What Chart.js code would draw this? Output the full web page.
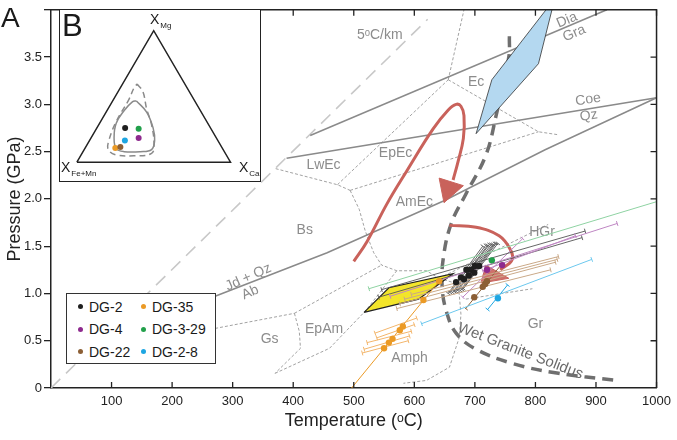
<!DOCTYPE html>
<html>
<head>
<meta charset="utf-8">
<script src="https://cdn.jsdelivr.net/npm/chart.js@4.4.1/dist/chart.umd.min.js"></script>
<style>
  body { margin: 0; background: #fff; font-family: "Liberation Sans", Arial, Helvetica, sans-serif; }
  #wrap { position: relative; width: 677px; height: 440px; overflow: hidden; }
  #main { position: absolute; left: 0; top: 0; }
  .abs { position: absolute; line-height: 1; color: #1a1a1a; white-space: nowrap; }
  #inset { position: absolute; left: 59px; top: 9px; width: 200px; height: 171px; border: 1.5px solid #222; background: #fff; }
  #inset canvas { position: absolute; left: 0; top: 0; }
  #legend { position: absolute; left: 66px; top: 293px; width: 148px; height: 69px; border: 1.5px solid #333; background: #fff; }
  .li { position: absolute; font-size: 14px; line-height: 14px; color: #1a1a1a; }
  .dot { position: absolute; width: 5px; height: 5px; border-radius: 50%; }
  .sub { font-size: 8px; position: relative; top: 4px; margin-left: 1px; }
</style>
</head>
<body>
<div id="wrap">
  <canvas id="main" width="677" height="440"></canvas>
  <div class="abs" style="left:1px; top:4px; font-size:28px;">A</div>
  <div id="inset"><canvas id="tern" width="200" height="171"></canvas></div>
  <div class="abs" style="left:62px; top:10px; font-size:31px;">B</div>
  <div class="abs" style="left:150px; top:12px; font-size:14px;">X<span class="sub">Mg</span></div>
  <div class="abs" style="left:61px; top:160px; font-size:14px;">X<span class="sub">Fe+Mn</span></div>
  <div class="abs" style="left:239px; top:160px; font-size:14px;">X<span class="sub">Ca</span></div>
  <div id="legend"></div>
</div>
<script>
const family = '"Liberation Sans", Arial, Helvetica, sans-serif';
Chart.defaults.font.family = family;

// axis ticks
const tempTicks = [100, 200, 300, 400, 500, 600, 700, 800, 900, 1000];
const pressTicks = [0.5, 1.0, 1.5, 2.0, 2.5, 3.0, 3.5];

// background geotherm, reactions, facies boundaries  [T (C), P (GPa)]
const geotherm5 = [[0, 0], [622, 3.9]];
const reactionJdAb = [[271, 0.97], [456, 1.43], [649, 1.98], [816, 2.52], [1000, 3.07]];
const reactionCoeQz = [[389, 2.43], [1000, 3.07]];
const reactionDiaGra = [[428, 2.67], [918, 4.0]];
const faciesLines = [
  [[371, 2.32], [473, 2.15], [494, 2.09]],
  [[473, 2.15], [656, 3.26]],
  [[656, 3.26], [682, 4.0]],
  [[656, 3.26], [805, 2.71], [836, 2.68]],
  [[494, 2.09], [805, 2.71]],
  [[494, 2.09], [509, 1.89], [519, 1.66], [533, 1.43], [546, 1.30], [571, 1.24], [620, 1.24], [641, 1.16]],
  [[271, 0.63], [402, 0.79]],
  [[402, 0.79], [546, 1.30]],
  [[402, 0.79], [410, 0.60], [412, 0.42], [370, 0.155]],
  [[370, 0.155], [460, 0.42], [520, 0.82], [566, 1.20], [571, 1.24]],
  [[641, 1.16], [662, 1.12], [674, 1.0], [677, 0.78], [674, 0.53], [658, 0.22], [620, 0.08], [582, 0.05]],
  [[641, 1.16], [821, 1.73]],
  [[685, 0.94], [795, 1.05]]
];
const solidus = [[757, 3.72], [756, 3.50], [735, 2.88], [718, 2.46], [685, 2.05], [661, 1.74], [648, 1.38],
  [646, 1.07], [653, 0.81], [669, 0.58], [702, 0.41], [762, 0.26], [838, 0.155], [931, 0.083]];
const bluePoly = [[702, 2.69], [728, 3.26], [832, 4.12], [805, 3.43], [702, 2.69]];
const yellowPoly = [[517, 0.80], [558, 1.06], [664, 1.21], [607, 0.94], [517, 0.80]];
const redPath1 = [[500, 1.34], [522, 1.55], [555, 1.95], [587, 2.29], [631, 2.74], [656, 2.94], [669, 3.0],
  [677, 2.98], [682, 2.88], [681, 2.64], [672, 2.39], [664, 2.2]];
const arrowHead1 = [[649, 1.96], [641, 2.22], [681, 2.14], [649, 1.96]];
const redPath2 = [[658, 1.72], [702, 1.70], [740, 1.61], [759, 1.46], [761, 1.35], [742, 1.25]];
const arrowHead2 = [[710, 1.11], [718, 1.30], [756, 1.16], [710, 1.11]];

// samples
const dg2T = [669, 677, 682, 686, 690, 694, 699, 700, 707];
const dg2P = [1.12, 1.17, 1.15, 1.25, 1.19, 1.25, 1.22, 1.29, 1.29];
const dg2Steep = [
  [[656, 1.00], [713, 1.50]], [[659, 1.01], [718, 1.51]], [[663, 1.01], [721, 1.51]],
  [[666, 1.02], [724, 1.52]], [[669, 1.02], [727, 1.52]], [[672, 1.03], [730, 1.52]],
  [[676, 1.03], [733, 1.53]], [[679, 1.04], [735, 1.53]], [[681, 1.05], [738, 1.53]]
];
const dg2Shallow = [[[546, 1.04], [882, 1.66]], [[541, 0.96], [877, 1.59]]];

const dg4T = [720, 745];
const dg4P = [1.25, 1.30];
const dg4Steep = [[[680, 0.96], [779, 1.58]]];
const dg4Shallow = [[[560, 0.97], [935, 1.74]], [[713, 1.24], [866, 1.61]]];

const dg22T = [699, 713, 717, 720];
const dg22P = [0.96, 1.07, 1.10, 1.13];
const dg22Steep = [[[685, 0.84], [743, 1.30]]];
const dg22Shallow = [[[595, 0.99], [838, 1.39]], [[584, 0.94], [836, 1.36]], [[576, 0.89], [833, 1.33]], [[571, 0.84], [825, 1.25]]];

const dg35T = [641, 615, 581, 576, 564, 558, 550];
const dg35P = [1.13, 0.93, 0.65, 0.61, 0.52, 0.48, 0.42];
const dg35Steep = [[[490, -0.05], [645, 1.16]]];
const dg35Shallow = [[[535, 0.58], [604, 0.74]], [[538, 0.53], [600, 0.67]], [[522, 0.48], [595, 0.60]], [[517, 0.41], [592, 0.55]], [[514, 0.37], [590, 0.50]]];

const dg329T = [728];
const dg329P = [1.35];
const dg329Shallow = [[[525, 1.05], [1010, 1.99]]];

const dg28T = [738];
const dg28P = [0.95];
const dg28Steep = [[[721, 0.83], [754, 1.09]]];
const dg28Shallow = [[[612, 0.68], [893, 1.36]]];

// ternary inset (triangle coordinates, base = 1)
const ternTriangle = [[0, 0], [1, 0], [0.5, 0.8625], [0, 0]];
const ternSolid = [[0.3875, 0.402], [0.454, 0.329], [0.496, 0.225], [0.506, 0.142], [0.486, 0.083], [0.4125, 0.069],
  [0.308, 0.069], [0.256, 0.089], [0.242, 0.1625], [0.256, 0.256], [0.308, 0.339], [0.361, 0.396], [0.3875, 0.402]];
const ternDashed = [[0.392, 0.5125], [0.429, 0.464], [0.454, 0.35], [0.486, 0.246], [0.502, 0.121], [0.486, 0.058],
  [0.371, 0.042], [0.256, 0.048], [0.204, 0.083], [0.208, 0.142], [0.256, 0.267], [0.339, 0.4125], [0.371, 0.486], [0.392, 0.5125]];
const ternX = [0.314, 0.25, 0.402, 0.402, 0.283, 0.3125];
const ternY = [0.225, 0.094, 0.158, 0.219, 0.10, 0.142];

const sampleNames = ['DG-2', 'DG-35', 'DG-4', 'DG-3-29', 'DG-22', 'DG-2-8'];
const sampleColors = ['#1f1f1f', '#eb9a25', '#8e2a8e', '#22a04b', '#8c5f35', '#1ea6e2'];
const barColors = ['#555555', '#f3b66c', '#bf86c3', '#8fd3a3', '#caa988', '#6cc8ee'];

const regionLabels = [
  ['5\u1D52C/km', 543, 3.73, 0], ['Dia', 852, 3.89, -23], ['Gra', 864, 3.75, -23], ['Ec', 702, 3.24, 0],
  ['Coe', 887, 3.05, -9], ['Qz', 888, 2.88, -9], ['LwEc', 450, 2.36, 0], ['EpEc', 569, 2.48, 0],
  ['AmEc', 600, 1.97, 0], ['Bs', 419, 1.67, 0], ['Jd + Qz', 326, 1.17, -24], ['Ab', 329, 1.01, -24],
  ['Gs', 361, 0.52, 0], ['EpAm', 451, 0.62, 0], ['Amph', 592, 0.32, 0], ['HGr', 811, 1.65, 0], ['Gr', 800, 0.68, 0]
];

const xy = a => a.map(([x, y]) => ({ x, y }));
function lineSet(pts, color, width, dash, order, extra) {
  return Object.assign({ data: xy(pts), showLine: true, borderColor: color, borderWidth: width,
    borderDash: dash, pointRadius: 0, fill: false, tension: 0, order: order }, extra || {});
}
function capAngle(chart, s) {
  const sx = chart.scales.x, sy = chart.scales.y;
  const dx = sx.getPixelForValue(s[1][0]) - sx.getPixelForValue(s[0][0]);
  const dy = sy.getPixelForValue(s[1][1]) - sy.getPixelForValue(s[0][1]);
  return Math.atan2(dy, dx) * 180 / Math.PI + 90;
}
function barSets(segs, color, width) {
  return segs.map(s => lineSet(s, color, width, [], 10, {
    pointStyle: 'line', pointRadius: 2.5, pointBorderColor: color, pointBorderWidth: width,
    pointRotation: ctx => capAngle(ctx.chart, s)
  }));
}
function pointSet(ts, ps, color) {
  return { data: ts.map((t, i) => ({ x: t, y: ps[i] })), showLine: false, pointRadius: 3.2,
    pointBackgroundColor: color, pointBorderWidth: 0, order: 2 };
}

const ds = [];
ds.push(lineSet(geotherm5, '#c8c8c8', 1.6, [13, 8], 30));
faciesLines.forEach(l => ds.push(lineSet(l, '#8a8a8a', 0.8, [3, 2], 29)));
[reactionJdAb, reactionCoeQz, reactionDiaGra].forEach(l => ds.push(lineSet(l, '#8a8a8a', 1.5, [], 28)));
ds.push(lineSet(solidus, '#6f6f6f', 3.5, [11, 7], 20, { tension: 0.4 }));
ds.push(lineSet(bluePoly, '#333', 0.8, [], 18, { fill: 'shape', backgroundColor: '#b4d8f0' }));
ds.push(lineSet(yellowPoly, '#222', 1.2, [], 18, { fill: 'shape', backgroundColor: '#f3e52a' }));
ds.push(lineSet(redPath1, '#c9625b', 3, [], 16, { tension: 0.4 }));
ds.push(lineSet(arrowHead1, '#c9625b', 1, [], 16, { fill: 'shape', backgroundColor: '#c9625b' }));
ds.push(lineSet(redPath2, '#c9625b', 3, [], 16, { tension: 0.4 }));
ds.push(lineSet(arrowHead2, '#c9625b', 1, [], 16, { fill: 'shape', backgroundColor: 'rgba(201,98,91,0.9)' }));

ds.push(...barSets(dg329Shallow, barColors[3], 1));
ds.push(...barSets(dg22Shallow, barColors[4], 1));
ds.push(...barSets(dg28Shallow, barColors[5], 1));
ds.push(...barSets(dg4Shallow, barColors[2], 1));
ds.push(...barSets(dg2Shallow, barColors[0], 0.9));
ds.push(...barSets(dg35Shallow, barColors[1], 1));
ds.push(...barSets(dg2Steep, barColors[0], 0.9));
ds.push(...barSets(dg4Steep, barColors[2], 1));
ds.push(...barSets(dg22Steep, sampleColors[4], 1));
ds.push(...barSets(dg28Steep, sampleColors[5], 1));
ds.push(lineSet(dg35Steep[0], sampleColors[1], 1, [], 10));

ds.push(pointSet(dg2T, dg2P, sampleColors[0]));
ds.push(pointSet(dg35T, dg35P, sampleColors[1]));
ds.push(pointSet(dg4T, dg4P, sampleColors[2]));
ds.push(pointSet(dg329T, dg329P, sampleColors[3]));
ds.push(pointSet(dg22T, dg22P, sampleColors[4]));
ds.push(pointSet(dg28T, dg28P, sampleColors[5]));

const decor = {
  id: 'decor',
  beforeDatasetsDraw(chart) {
    const { ctx, scales: { x, y } } = chart;
    ctx.save();
    ctx.textAlign = 'center';
    ctx.textBaseline = 'middle';
    ctx.font = '14px ' + family;
    ctx.fillStyle = '#8c8c8c';
    regionLabels.forEach(([txt, t, p, rot]) => {
      ctx.save();
      ctx.translate(x.getPixelForValue(t), y.getPixelForValue(p));
      ctx.rotate(rot * Math.PI / 180);
      ctx.fillText(txt, 0, 0);
      ctx.restore();
    });
    ctx.translate(x.getPixelForValue(775), y.getPixelForValue(0.39));
    ctx.rotate(21 * Math.PI / 180);
    ctx.font = '15px ' + family;
    ctx.fillStyle = '#6a6a6a';
    ctx.fillText('Wet Granite Solidus', 0, 0);
    ctx.restore();
  },
  afterDatasetsDraw(chart) {
    const { ctx, chartArea: a, scales: { x, y } } = chart;
    ctx.save();
    ctx.strokeStyle = '#222';
    ctx.lineWidth = 1.5;
    ctx.beginPath();
    ctx.moveTo(a.left, a.top);
    ctx.lineTo(a.right, a.top);
    ctx.lineTo(a.right, a.bottom);
    ctx.stroke();
    ctx.lineWidth = 1.3;
    ctx.beginPath();
    tempTicks.forEach(t => {
      const px = x.getPixelForValue(t);
      ctx.moveTo(px, a.bottom); ctx.lineTo(px, a.bottom - 6);
      ctx.moveTo(px, a.top); ctx.lineTo(px, a.top + 6);
    });
    pressTicks.forEach(p => {
      const py = y.getPixelForValue(p);
      ctx.moveTo(a.right, py); ctx.lineTo(a.right - 6, py);
    });
    ctx.stroke();
    ctx.restore();
  }
};

new Chart(document.getElementById('main'), {
  type: 'line',
  data: { datasets: ds },
  options: {
    responsive: false,
    animation: false,
    devicePixelRatio: 1,
    layout: { padding: { top: 2, right: 15, left: 0, bottom: 0 } },
    plugins: { legend: { display: false }, tooltip: { enabled: false } },
    scales: {
      x: {
        type: 'linear', min: 0, max: 1000,
        afterFit(s) { s.height = 52; },
        ticks: { stepSize: 100, padding: 6, color: '#222', font: { size: 13 }, maxRotation: 0, autoSkip: false,
          callback: v => (v === 0 ? '' : v) },
        grid: { drawOnChartArea: false, drawTicks: false },
        border: { display: true, color: '#222', width: 1.5 },
        title: { display: true, text: 'Temperature (\u1D52C)', color: '#222', font: { size: 18 }, padding: { top: 0, bottom: 8 } }
      },
      y: {
        type: 'linear', min: 0, max: 4,
        afterFit(s) { s.width = 51; },
        ticks: { stepSize: 0.5, padding: 2, color: '#222', font: { size: 13 },
          callback: v => (v === 0 ? '0' : (v >= 4 ? '' : v.toFixed(1))) },
        grid: { drawOnChartArea: false, drawTicks: true, tickLength: 7, color: '#222', lineWidth: 1.3 },
        border: { display: true, color: '#222', width: 1.5 },
        title: { display: true, text: 'Pressure (GPa)', color: '#222', font: { size: 18 }, padding: { top: 4, bottom: 0 } }
      }
    }
  },
  plugins: [decor]
});

// ternary inset
const tds = [
  lineSet(ternTriangle, '#222', 1.5, [], 5),
  lineSet(ternSolid, '#8a8a8a', 1.5, [], 5, { tension: 0.4 }),
  lineSet(ternDashed, '#8a8a8a', 1.5, [6, 4], 5, { tension: 0.4 }),
  { data: ternX.map((v, i) => ({ x: v, y: ternY[i] })), showLine: false, pointRadius: 3,
    pointBackgroundColor: [sampleColors[0], sampleColors[1], sampleColors[2], sampleColors[3], sampleColors[4], sampleColors[5]],
    pointBorderWidth: 0, order: 1 }
];
new Chart(document.getElementById('tern'), {
  type: 'line',
  data: { datasets: tds },
  options: {
    responsive: false, animation: false, devicePixelRatio: 1,
    layout: { padding: 0 },
    plugins: { legend: { display: false }, tooltip: { enabled: false } },
    scales: {
      x: { type: 'linear', min: -0.084, max: 1.166, display: false },
      y: { type: 'linear', min: -0.097, max: 0.972, display: false }
    }
  }
});

// legend box
const leg = document.getElementById('legend');
sampleNames.forEach((name, i) => {
  const col = i % 2, row = Math.floor(i / 2);
  const cx = col === 0 ? 13 : 76;
  const cy = 12.5 + row * 22.5;
  const d = document.createElement('div');
  d.className = 'dot';
  d.style.left = (cx - 2.5) + 'px';
  d.style.top = (cy - 2.5) + 'px';
  d.style.background = sampleColors[i];
  leg.appendChild(d);
  const t = document.createElement('div');
  t.className = 'li';
  t.style.left = (cx + 9) + 'px';
  t.style.top = (cy - 7) + 'px';
  t.textContent = name;
  leg.appendChild(t);
});
</script>
</body>
</html>
